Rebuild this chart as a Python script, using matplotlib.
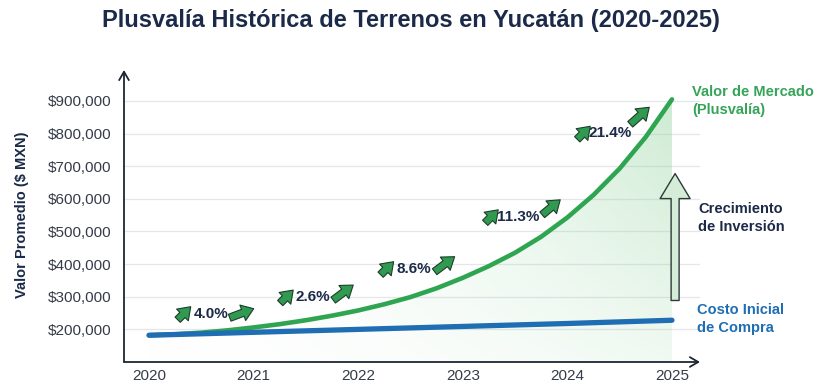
import matplotlib
matplotlib.use("Agg")
import matplotlib.pyplot as plt
import numpy as np
from matplotlib.transforms import offset_copy
from matplotlib.path import Path as MPath
from matplotlib.patches import PathPatch

# ── Data ──────────────────────────────────────────────────────────────────────
years_q      = [2020, 2020.25, 2020.5, 2020.75, 2021, 2021.25, 2021.5, 2021.75,
                2022, 2022.25, 2022.5, 2022.75, 2023, 2023.25, 2023.5, 2023.75,
                2024, 2024.25, 2024.5, 2024.75, 2025]
market_value = [182000, 185000, 190000, 197000, 206000, 216000, 228000, 242000,
                258000, 277000, 299000, 326000, 358000, 394000, 435000, 484000,
                543000, 612000, 693000, 790000, 905000]
years        = [2020, 2021, 2022, 2023, 2024, 2025]
cost_value   = [182000, 191000, 200000, 209000, 218000, 228000]
growth_lbls  = ["4.0%", "2.6%", "8.6%", "11.3%", "21.4%"]
growth_x     = [2020.59, 2021.57, 2022.53, 2023.53, 2024.41]
growth_y     = [248000, 299000, 386000, 545000, 801000]
yticks       = [200000, 300000, 400000, 500000, 600000, 700000, 800000, 900000]

# ── Style ─────────────────────────────────────────────────────────────────────
NAVY  = "#1b2a48"
GREEN = "#2fa552"
BLUE  = "#1f6db3"
TEXT  = "#353b47"
ICON_FC = "#2f9a50"
ICON_EC = "#1c3d2a"
FONT = ["Liberation Sans", "DejaVu Sans"]

plt.rcParams["font.family"] = FONT

fig = plt.figure(figsize=(8.22, 3.85), dpi=100)
W, H = 822, 385
ax = fig.add_axes([124 / W, (H - 362) / H, (700 - 124) / W, (362 - 70) / H])
ax.set_xlim(2019.761, 2025.268)
ax.set_ylim(100000, 995000)

# grid
for v in yticks:
    ax.axhline(v, color="#e4e7ea", lw=0.9, zorder=0)

# gradient fill under market curve
x = np.array(years_q, dtype=float)
g = np.array(market_value, dtype=float)
verts = [(x[0], 100000)] + list(zip(x, g)) + [(x[-1], 100000)]
clip = PathPatch(MPath(verts), facecolor="none", edgecolor="none")
ax.add_patch(clip)
nx, ny = 200, 100
gx = np.linspace(0, 1, nx)[None, :]
gy = np.linspace(0, 1, ny)[:, None]
alpha = (0.03 + 0.40 * gx ** 1.8) * (0.3 + 0.7 * gy)
rgba = np.zeros((ny, nx, 4))
rgba[..., 0], rgba[..., 1], rgba[..., 2] = 0.55, 0.82, 0.60
rgba[..., 3] = alpha
im = ax.imshow(rgba, extent=[2020, 2025, 100000, 905000], origin="lower",
               aspect="auto", zorder=1, interpolation="bilinear")
im.set_clip_path(clip)

ax.plot(years_q, market_value, color=GREEN, lw=3.3, solid_capstyle="round",
        solid_joinstyle="round", zorder=3)
ax.plot(years, cost_value, color=BLUE, lw=3.8, solid_capstyle="round", zorder=3)

# big hollow arrow (investment growth)
ax.annotate("", xy=(2025.03, 686000), xytext=(2025.03, 280000),
            arrowprops=dict(arrowstyle="simple,head_length=1.0,head_width=1.2,tail_width=0.32",
                            mutation_scale=18, fc="#d4ecd8", ec="#2d3a36", lw=1.0),
            zorder=4)

# growth labels with little arrow icons (offsets in pixels from label centre)
left_icon  = [((-33, -6), (-20, 7))] * 5
right_icon = [((19, -4), (43, 5)), ((20, -3), (40, 12)), ((21, -3), (41, 12)),
              ((24, 2), (42, 17)), ((20, 9), (39, 26))]
icon_style = "simple,head_length=0.6,head_width=0.85,tail_width=0.38"
for lbl, lx, ly, li, ri in zip(growth_lbls, growth_x, growth_y, left_icon, right_icon):
    ax.text(lx, ly, lbl, ha="center", va="center", fontsize=11, fontweight="bold",
            color=NAVY, zorder=5)
    for (t, h) in (li, ri):
        tr_t = offset_copy(ax.transData, fig=fig, x=t[0], y=t[1], units="dots")
        tr_h = offset_copy(ax.transData, fig=fig, x=h[0], y=h[1], units="dots")
        ax.annotate("", xy=(lx, ly), xycoords=tr_h, xytext=(lx, ly), textcoords=tr_t,
                    arrowprops=dict(arrowstyle=icon_style, mutation_scale=14,
                                    fc=ICON_FC, ec=ICON_EC, lw=0.8,
                                    shrinkA=0, shrinkB=0),
                    zorder=5)

# right-hand labels
fig.text(692 / W, 1 - 101 / H, "Valor de Mercado\n(Plusvalía)", ha="left", va="center",
         fontsize=10.5, fontweight="bold", color="#35a458", linespacing=1.3)
fig.text(698 / W, 1 - 218 / H, "Crecimiento\nde Inversión", ha="left", va="center",
         fontsize=10.5, fontweight="bold", color=NAVY, linespacing=1.3)
fig.text(697 / W, 1 - 319 / H, "Costo Inicial\nde Compra", ha="left", va="center",
         fontsize=10.5, fontweight="bold", color=BLUE, linespacing=1.3)

# axes with arrow heads
for s in ax.spines.values():
    s.set_visible(False)
ax.annotate("", xy=(1.0, 0), xycoords="axes fraction", xytext=(0, 0),
            arrowprops=dict(arrowstyle="->,head_length=0.6,head_width=0.35", color="#1e2633", lw=1.3,
                            shrinkA=0, shrinkB=0), annotation_clip=False)
ax.annotate("", xy=(0, 1.0), xycoords="axes fraction", xytext=(0, 0),
            arrowprops=dict(arrowstyle="->,head_length=0.6,head_width=0.35", color="#1e2633", lw=1.3,
                            shrinkA=0, shrinkB=0), annotation_clip=False)

ax.set_xticks(years)
ax.set_xticklabels([str(y) for y in years])
ax.set_yticks(yticks)
ax.set_yticklabels([f"${v:,.0f}" for v in yticks])
ax.tick_params(axis="both", length=0, labelsize=11, colors=TEXT)
ax.tick_params(axis="y", pad=9)
ax.tick_params(axis="x", pad=5)

fig.text(22 / W, 1 - 215 / H, "Valor Promedio ($ MXN)", rotation=90, ha="center", va="center",
         fontsize=10.5, fontweight="bold", color=NAVY)

fig.text(411 / W, 1 - 20 / H, "Plusvalía Histórica de Terrenos en Yucatán (2020-2025)",
         ha="center", va="center", fontsize=17, fontweight="bold", color=NAVY)

fig.savefig("out.png", dpi=100)
